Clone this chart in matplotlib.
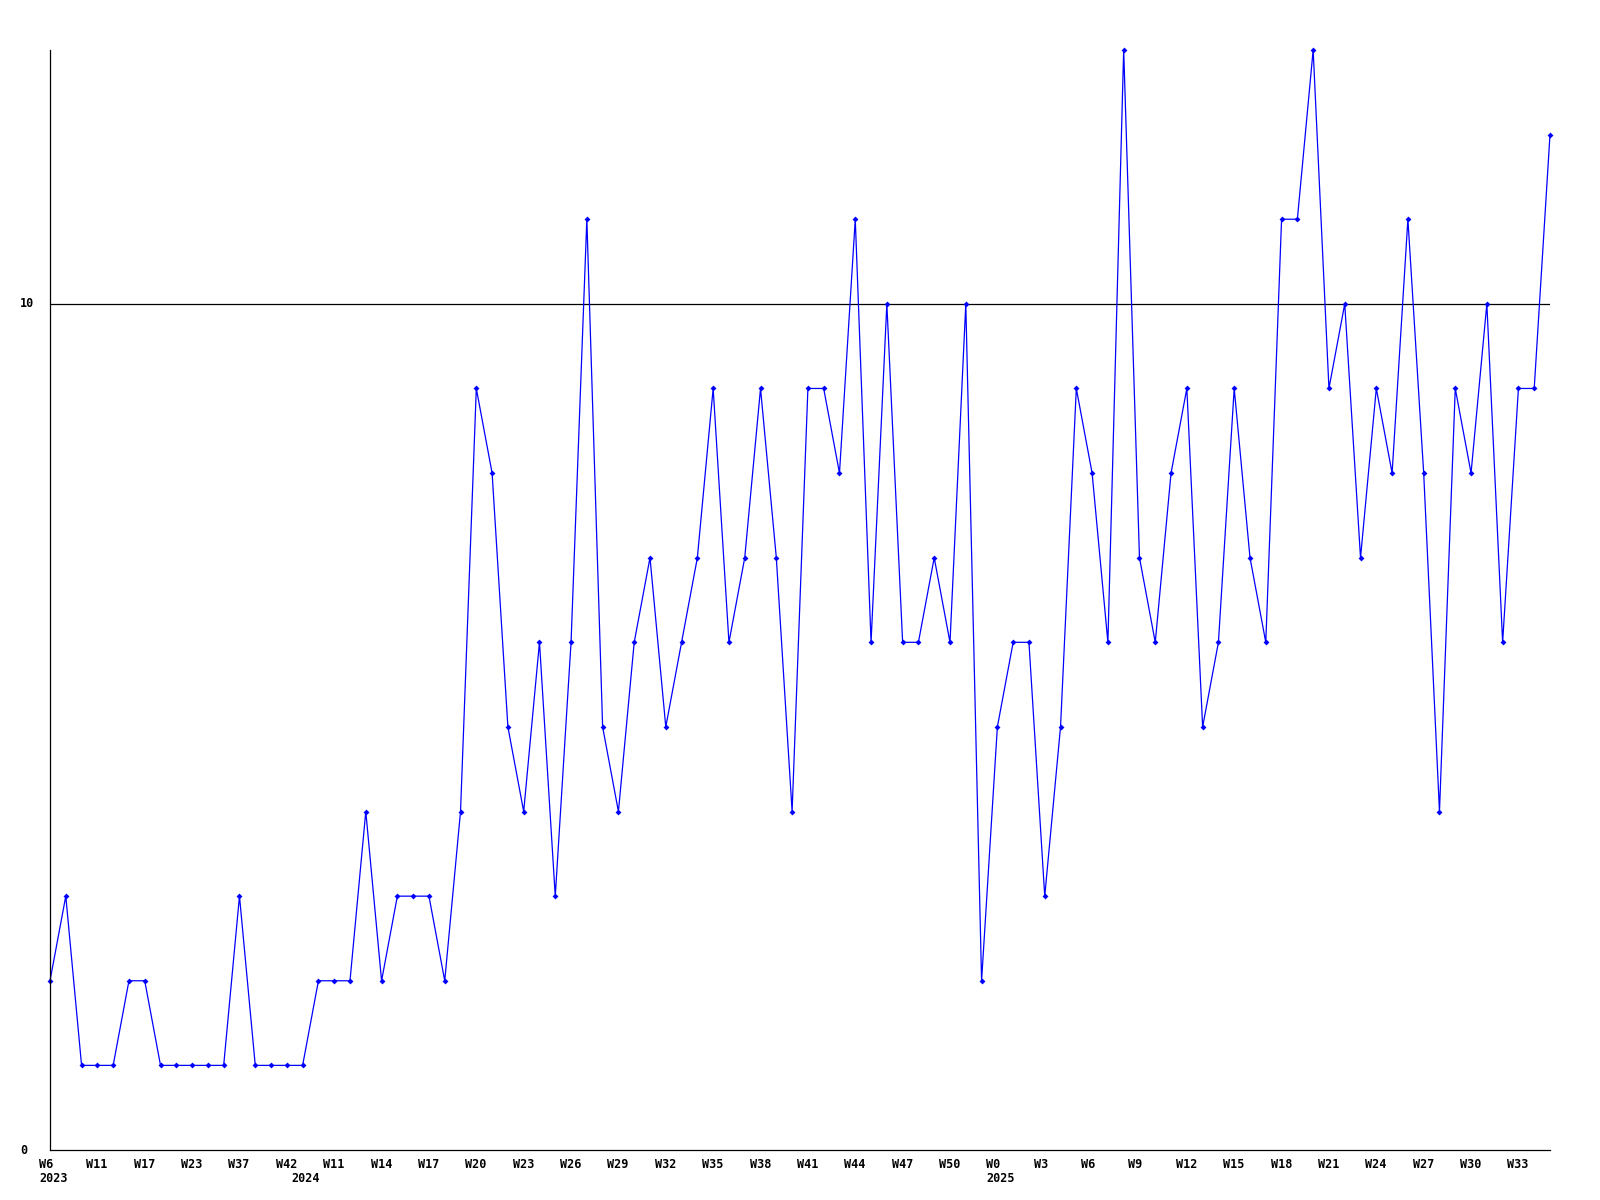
import matplotlib
matplotlib.use('Agg')
import matplotlib.pyplot as plt
import matplotlib.transforms as mtransforms

# weekly counts, one per point
values = [2, 3, 1, 1, 1, 2, 2, 1, 1, 1, 1, 1, 3, 1, 1, 1, 1, 2, 2, 2,
          4, 2, 3, 3, 3, 2, 4, 9, 8, 5, 4, 6, 3, 6, 11, 5, 4, 6, 7, 5,
          6, 7, 9, 6, 7, 9, 7, 4, 9, 9, 8, 11, 6, 10, 6, 6, 7, 6, 10, 2,
          5, 6, 6, 3, 5, 9, 8, 6, 13, 7, 6, 8, 9, 5, 6, 9, 7, 6, 11, 11,
          13, 9, 10, 7, 9, 8, 11, 8, 4, 9, 8, 10, 6, 9, 9, 12]

week_labels = ['W6', 'W11', 'W17', 'W23', 'W37', 'W42', 'W11', 'W14', 'W17', 'W20',
               'W23', 'W26', 'W29', 'W32', 'W35', 'W38', 'W41', 'W44', 'W47', 'W50',
               'W0', 'W3', 'W6', 'W9', 'W12', 'W15', 'W18', 'W21', 'W24', 'W27',
               'W30', 'W33']
year_labels = ['2023', '2024', '2025']
year_pos = [0, 16, 60]
y_labels = ['0', '10']
y_ticks = [0, 10]

W, H = 1600, 1200
fig = plt.figure(figsize=(16, 12), dpi=100)
ax = fig.add_axes([50 / W, (H - 1150) / H, 1500 / W, 1100 / H])

x = list(range(len(values)))
ax.plot(x, values, color='#0000ff', lw=0.9, marker='D', markersize=3,
        markeredgewidth=0, clip_on=False)
ax.axhline(10, color='black', lw=0.9, zorder=0)

ax.set_xlim(0, len(values) - 1)
ax.set_ylim(0, 13)
for s in ['top', 'right']:
    ax.spines[s].set_visible(False)
for s in ['left', 'bottom']:
    ax.spines[s].set_linewidth(0.9)

font = dict(family='DejaVu Sans Mono', fontweight='bold', fontsize=8.5)

ax.set_yticks([])
ax.set_xticks([])

shift = mtransforms.ScaledTranslation(-11 / 100, 0, fig.dpi_scale_trans)
xt = mtransforms.blended_transform_factory(ax.transData, fig.transFigure)
for i, lab in enumerate(week_labels):
    ax.text(i * 3, (H - 1158) / H, lab, transform=xt + shift,
            ha='left', va='top', **font)
for p, lab in zip(year_pos, year_labels):
    ax.text(p, (H - 1172) / H, lab, transform=xt + shift,
            ha='left', va='top', **font)

yt = mtransforms.blended_transform_factory(fig.transFigure, ax.transData)
for v, lab in zip(y_ticks, y_labels):
    ax.text(20 / W, v, lab, transform=yt, ha='left', va='center', **font)

fig.savefig('out.png', dpi=100)
